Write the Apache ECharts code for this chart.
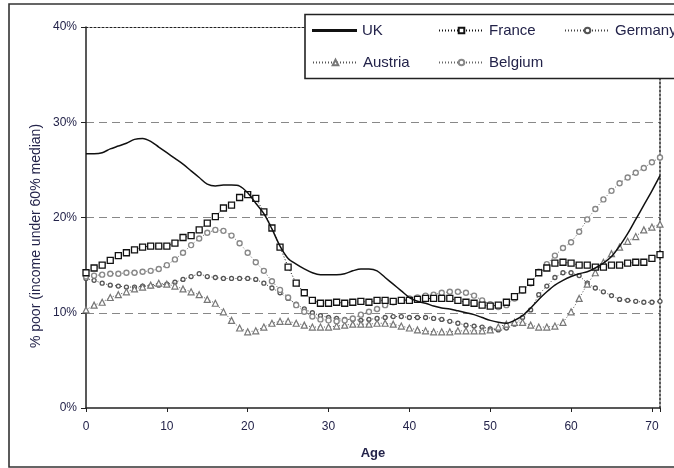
<!DOCTYPE html>
<html>
<head>
<meta charset="utf-8">
<script src="https://cdn.jsdelivr.net/npm/echarts@6/dist/echarts.min.js"></script>
<style>
  html, body { margin: 0; padding: 0; background: #fff; }
  #chart { width: 674px; height: 468px; }
</style>
</head>
<body>
<div id="chart"></div>
<script>
// Poverty rate by age (share of people with income under 60% of the median)
const ages = Array.from({ length: 72 }, (_, i) => i); // 0 .. 71

const uk = [
  26.7, 26.7, 26.8, 27.2, 27.5, 27.8, 28.2, 28.3, 28.0, 27.4,
  26.8, 26.2, 25.6, 24.9, 24.2, 23.5, 23.3, 23.4, 23.4, 23.3,
  22.6, 21.5, 20.4, 18.8, 17.0, 15.7, 15.1, 14.6, 14.2, 14.0,
  14.0, 14.0, 14.1, 14.4, 14.6, 14.6, 14.4, 13.7, 13.0, 12.3,
  11.6, 11.2, 11.0, 10.7, 10.5, 10.4, 10.2, 10.0, 9.8, 9.5,
  9.2, 9.0, 8.9, 9.2, 9.7, 10.5, 11.4, 12.2, 12.9, 13.4,
  13.8, 14.1, 14.3, 14.7, 15.2, 15.9, 17.0, 18.3, 19.8, 21.3,
  22.8, 24.4
];

const france = [
  14.2, 14.7, 15.0, 15.5, 16.0, 16.3, 16.6, 16.9, 17.0, 17.0,
  17.0, 17.3, 17.9, 18.1, 18.7, 19.4, 20.1, 21.0, 21.3, 22.1,
  22.4, 22.0, 20.6, 18.9, 16.9, 14.8, 13.1, 12.1, 11.3, 11.0,
  11.0, 11.1, 11.0, 11.1, 11.2, 11.1, 11.3, 11.3, 11.2, 11.3,
  11.3, 11.4, 11.5, 11.5, 11.5, 11.5, 11.3, 11.1, 11.0, 10.8,
  10.7, 10.8, 11.1, 11.7, 12.4, 13.2, 14.2, 14.7, 15.2, 15.3,
  15.2, 15.0, 15.0, 14.8, 14.8, 15.0, 15.0, 15.2, 15.3, 15.3,
  15.7, 16.1
];

const germany = [
  13.6, 13.4, 13.1, 12.9, 12.8, 12.7, 12.7, 12.8, 12.8, 12.9,
  13.0, 13.2, 13.5, 13.8, 14.1, 13.8, 13.7, 13.6, 13.6, 13.6,
  13.6, 13.5, 13.1, 12.6, 12.1, 11.5, 10.9, 10.4, 10.0, 9.7,
  9.5, 9.4, 9.3, 9.3, 9.2, 9.3, 9.4, 9.5, 9.6, 9.6,
  9.5, 9.5, 9.5, 9.4, 9.3, 9.1, 8.9, 8.7, 8.6, 8.5,
  8.3, 8.2, 8.4, 8.8, 9.5, 10.3, 11.9, 12.8, 13.7, 14.2,
  14.2, 13.9, 13.1, 12.6, 12.2, 11.8, 11.4, 11.3, 11.2, 11.1,
  11.1, 11.2
];

const austria = [
  10.3, 10.8, 11.1, 11.6, 11.9, 12.2, 12.5, 12.7, 12.9, 13.1,
  13.0, 12.8, 12.5, 12.2, 11.9, 11.4, 11.0, 10.1, 9.2, 8.4,
  8.0, 8.1, 8.5, 8.9, 9.1, 9.1, 8.9, 8.7, 8.5, 8.5,
  8.5, 8.6, 8.7, 8.8, 8.8, 8.8, 8.9, 8.9, 8.8, 8.6,
  8.4, 8.2, 8.1, 8.0, 8.0, 8.0, 8.1, 8.1, 8.1, 8.1,
  8.2, 8.5, 8.8, 9.0, 9.0, 8.7, 8.5, 8.5, 8.6, 9.0,
  10.1, 11.5, 13.0, 14.2, 15.3, 16.2, 16.9, 17.5, 18.0, 18.7,
  19.0, 19.3
];

const belgium = [
  13.8, 13.9, 14.0, 14.1, 14.1, 14.2, 14.2, 14.3, 14.4, 14.6,
  15.0, 15.6, 16.3, 17.1, 17.8, 18.4, 18.7, 18.6, 18.1, 17.3,
  16.3, 15.3, 14.4, 13.3, 12.4, 11.6, 10.8, 10.1, 9.6, 9.3,
  9.2, 9.1, 9.2, 9.4, 9.8, 10.1, 10.4, 10.8, 11.1, 11.3,
  11.5, 11.6, 11.8, 11.9, 12.1, 12.2, 12.2, 12.1, 11.8, 11.3,
  10.9, 10.6, 10.8, 11.5, 12.3, 13.1, 14.3, 15.1, 16.0, 16.8,
  17.4, 18.5, 19.8, 20.9, 21.9, 22.8, 23.6, 24.2, 24.7, 25.2,
  25.8, 26.3
];

const yTicks = [0, 10, 20, 30, 40];
const xTicks = [0, 10, 20, 30, 40, 50, 60, 70];

const textColor = '#23234a';
const font = '"Liberation Sans", Arial, sans-serif';

const pairs = (vals) => ages.map((a, i) => [a, vals[i]]);

const chart = echarts.init(document.getElementById('chart'), null, { renderer: 'canvas' });

function legendItem(entry, left, top, iconHeight) {
  return {
    data: [entry],
    left: left,
    top: top,
    orient: 'horizontal',
    itemWidth: 45,
    itemHeight: iconHeight || 7,
    itemGap: 0,
    padding: 0,
    z: 10,
    selectedMode: false,
    textStyle: { fontFamily: font, fontSize: 15, color: textColor }
  };
}

const option = {
  backgroundColor: '#ffffff',
  animation: false,
  graphic: [
    // outer frame
    { type: 'rect', shape: { x: 9, y: 4, width: 700, height: 463 },
      style: { fill: 'none', stroke: '#333', lineWidth: 1.6 }, silent: true, z: 0 },
    // legend box (sits over the top right corner of the plot)
    { type: 'rect', shape: { x: 305, y: 14.5, width: 400, height: 64 },
      style: { fill: '#fff', stroke: '#222', lineWidth: 1.6 }, silent: true, z: 3 },
    // y-axis title, reading bottom to top
    { type: 'text', x: 36, y: 236, rotation: Math.PI / 2,
      style: { text: '% poor (income under 60% median)', fontFamily: font, fontSize: 14,
               fill: textColor, align: 'center', verticalAlign: 'middle' },
      silent: true, z: 6 }
  ],
  legend: [
    legendItem({ name: 'UK', icon: 'rect', itemStyle: { color: '#111' } }, 312, 23, 3),
    legendItem('France', 438, 23),
    legendItem('Germany', 564, 23),
    legendItem('Austria', 312, 55),
    legendItem('Belgium', 438, 55)
  ],
  grid: { left: 86, right: 14, top: 27, bottom: 60, containLabel: false },
  xAxis: [
    {
      type: 'value', min: 0, max: 71, interval: 10,
      name: 'Age', nameLocation: 'middle', nameGap: 39,
      nameTextStyle: { fontFamily: font, fontSize: 13, fontWeight: 'bold', color: textColor },
      axisLine: { onZero: false, lineStyle: { color: '#222', width: 1.5 } },
      axisTick: { show: true, length: 4, lineStyle: { color: '#222' } },
      axisLabel: {
        fontFamily: font, fontSize: 12, color: textColor, margin: 13,
        formatter: (v) => (xTicks.includes(v) ? String(v) : '')
      },
      splitLine: { show: false }
    },
    {
      type: 'value', min: 0, max: 71, position: 'top', z: 2,
      axisLine: { show: true, onZero: false, lineStyle: { color: '#222', width: 1.2, type: [2, 2] } },
      axisTick: { show: false }, axisLabel: { show: false }, splitLine: { show: false }
    }
  ],
  yAxis: [
    {
      type: 'value', min: 0, max: 40, interval: 10,
      axisLine: { show: true, onZero: false, lineStyle: { color: '#222', width: 1.5 } },
      axisTick: { show: true, length: 5, lineStyle: { color: '#222' } },
      axisLabel: {
        fontFamily: font, fontSize: 12, color: textColor, margin: 9,
        formatter: (v) => (yTicks.includes(v) ? v + '%' : '')
      },
      splitLine: {
        show: true, showMinLine: false, showMaxLine: false,
        lineStyle: { color: '#888', width: 1, type: [8, 5] }
      }
    },
    {
      type: 'value', min: 0, max: 40, position: 'right', z: 2,
      axisLine: { show: true, onZero: false, lineStyle: { color: '#222', width: 1.5, type: [2, 2] } },
      axisTick: { show: false }, axisLabel: { show: false }, splitLine: { show: false }
    }
  ],
  series: [
    {
      name: 'UK', type: 'line', data: pairs(uk), smooth: 0.3,
      showSymbol: false, symbol: 'none', color: '#111',
      lineStyle: { color: '#111', width: 1.5 }, z: 4
    },
    {
      name: 'France', type: 'line', data: pairs(france),
      symbol: 'rect', symbolSize: 6, showAllSymbol: true, color: '#111',
      itemStyle: { color: '#fff', borderColor: '#111', borderWidth: 1.3 },
      lineStyle: { color: '#111', width: 1, type: [1, 2] }, z: 3
    },
    {
      name: 'Germany', type: 'line', data: pairs(germany),
      symbol: 'circle', symbolSize: 4, showAllSymbol: true, color: '#555',
      itemStyle: { color: '#fff', borderColor: '#555', borderWidth: 1.3 },
      lineStyle: { color: '#444', width: 1, type: [1, 2] }, z: 2
    },
    {
      name: 'Austria', type: 'line', data: pairs(austria),
      symbol: 'triangle', symbolSize: 6, showAllSymbol: true, color: '#777',
      itemStyle: { color: '#fff', borderColor: '#777', borderWidth: 1.2 },
      lineStyle: { color: '#555', width: 1, type: [1, 2] }, z: 2
    },
    {
      name: 'Belgium', type: 'line', data: pairs(belgium),
      symbol: 'circle', symbolSize: 5, showAllSymbol: true, color: '#888',
      itemStyle: { color: '#fff', borderColor: '#888', borderWidth: 1.4 },
      lineStyle: { color: '#666', width: 1, type: [1, 2] }, z: 2
    }
  ]
};

chart.setOption(option);
</script>
</body>
</html>
